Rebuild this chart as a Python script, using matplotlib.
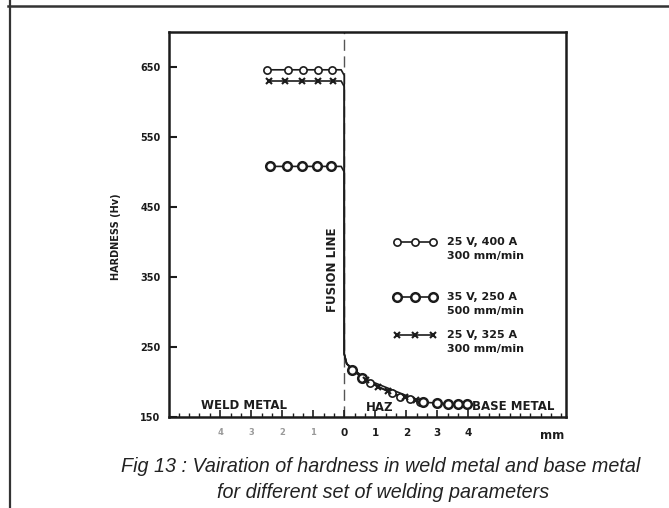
import matplotlib
matplotlib.use('Agg')
import matplotlib.pyplot as plt
from matplotlib.ticker import FixedLocator, MultipleLocator
from matplotlib.lines import Line2D

# ---------------- data ----------------
series_labels = ["25 V, 400 A\n300 mm/min",
                 "35 V, 250 A\n500 mm/min",
                 "25 V, 325 A\n300 mm/min"]

# weld metal side (mm from fusion line, hardness Hv)
s1_weld_x = [-2.48, -1.80, -1.32, -0.84, -0.39]
s1_weld_y = [646, 646, 646, 646, 646]
s2_weld_x = [-2.38, -1.83, -1.35, -0.87, -0.42]
s2_weld_y = [508, 508, 508, 508, 508]
s3_weld_x = [-2.44, -1.90, -1.35, -0.84, -0.35]
s3_weld_y = [630, 630, 630, 630, 630]

# drop across the fusion line (curve only, no markers)
s1_drop_x = [-0.10, 0.0, 0.0, 0.08]
s1_drop_y = [646, 638, 240, 226]
s2_drop_x = [-0.10, 0.0, 0.0, 0.08]
s2_drop_y = [508, 500, 240, 226]
s3_drop_x = [-0.10, 0.0, 0.0, 0.08]
s3_drop_y = [630, 622, 240, 226]

# HAZ / base metal side
s1_haz_x = [0.84, 1.54, 1.80, 2.12, 2.45]
s1_haz_y = [199, 184, 179, 176, 172]
s2_haz_x = [0.26, 0.58, 2.54, 2.99, 3.34, 3.67, 3.95]
s2_haz_y = [217, 206, 171, 170, 169, 169, 169]
s3_haz_x = [0.70, 1.09, 1.40, 1.95, 2.30]
s3_haz_y = [203, 193, 187, 178, 174]

y_ticks = [150, 250, 350, 450, 550, 650]
x_ticks = [-4, -3, -2, -1, 0, 1, 2, 3, 4]
x_ticklabels = ["4", "3", "2", "1", "0", "1", "2", "3", "4"]

# ---------------- figure ----------------
ink = '#1c1c1c'
fig = plt.figure(figsize=(6.69, 5.08), dpi=100)
fig.patch.set_facecolor('white')

# outer frame lines of the scanned page
fig.add_artist(Line2D([10/669, 10/669], [0, 1], transform=fig.transFigure, color='#333', lw=1.6))
fig.add_artist(Line2D([8/669, 1], [1-6/508, 1-6/508], transform=fig.transFigure, color='#333', lw=1.8))

ax = fig.add_axes([169/669, 1-417/508, (566-169)/669, (417-32)/508])
ax.set_xlim(-5.65, 7.15)
ax.set_ylim(150, 700)

for sp in ax.spines.values():
    sp.set_linewidth(1.8)
    sp.set_color(ink)

styles = [
    dict(marker='o', ms=5.2, mfc='white', mec=ink, mew=1.2),
    dict(marker='o', ms=6.2, mfc='white', mec=ink, mew=1.8),
    dict(marker='x', ms=4, mec=ink, mew=1.5),
]

series = [
    (s1_weld_x, s1_weld_y, s1_drop_x, s1_drop_y, s1_haz_x, s1_haz_y),
    (s2_weld_x, s2_weld_y, s2_drop_x, s2_drop_y, s2_haz_x, s2_haz_y),
    (s3_weld_x, s3_weld_y, s3_drop_x, s3_drop_y, s3_haz_x, s3_haz_y),
]

for (wx, wy, dx, dy, hx, hy), st in zip(series, styles):
    px = wx + dx + hx
    py = wy + dy + hy
    ax.plot(px, py, color=ink, lw=1.2, zorder=2)
    ax.plot(wx + hx, wy + hy, ls='none', zorder=3, **st)

# fusion line
ax.axvline(0, color='#555', lw=1.0, ls=(0, (8, 4)), zorder=1)

# ticks
ax.yaxis.set_major_locator(FixedLocator(y_ticks))
ax.tick_params(axis='y', direction='in', length=6, width=1.5, pad=6,
               labelsize=7, colors=ink)
for t in ax.get_yticklabels():
    t.set_fontweight('bold')

ax.xaxis.set_major_locator(FixedLocator(x_ticks))
ax.set_xticklabels(x_ticklabels)
ax.xaxis.set_minor_locator(MultipleLocator(1/3))
ax.tick_params(axis='x', which='major', direction='in', length=5, width=1.2,
               pad=8, labelsize=7.5, colors=ink)
ax.tick_params(axis='x', which='minor', direction='in', length=3, width=1.0, colors=ink)
for i, t in enumerate(ax.get_xticklabels()):
    t.set_fontweight('bold')
    if x_ticks[i] < 0:
        t.set_color('#9a9a9a')
        t.set_fontsize(6)

ax.set_ylabel('HARDNESS (Hv)', fontsize=7, fontweight='bold', color=ink)
ax.yaxis.set_label_coords(-0.121, 0.468)

# region labels
tk = dict(transform=ax.transAxes, fontsize=8.5, fontweight='bold', color=ink,
          ha='center', va='center')
ax.text(0.19, 0.030, 'WELD METAL', **tk)
ax.text(0.53, 0.024, 'HAZ', **tk)
ax.text(0.866, 0.027, 'BASE METAL', **tk)
ax.text(0.965, -0.048, 'mm', **tk)
ax.text(0.413, 0.382, 'FUSION LINE', rotation=90, **tk)

# legend (manual, as in the original)
leg_y = [0.4545, 0.312, 0.213]
leg_x = [0.574, 0.6195, 0.665]
for yy, st, lab in zip(leg_y, styles, series_labels):
    ax.plot(leg_x, [yy] * 3, transform=ax.transAxes, color=ink, lw=1.2, **st)
    ax.text(0.700, yy + 0.013, lab, transform=ax.transAxes, fontsize=8,
            fontweight='bold', color=ink, ha='left', va='top', linespacing=1.5)

# caption
cap = dict(fontsize=14.2, style='italic', family='Liberation Sans', color='#222',
           ha='center', va='center')
fig.text(381/669, 1-467/508, 'Fig 13 : Vairation of hardness in weld metal and base metal', **cap)
fig.text(383/669, 1-493/508, 'for different set of welding parameters', **cap)

fig.savefig('out.png', dpi=100, facecolor='white')
